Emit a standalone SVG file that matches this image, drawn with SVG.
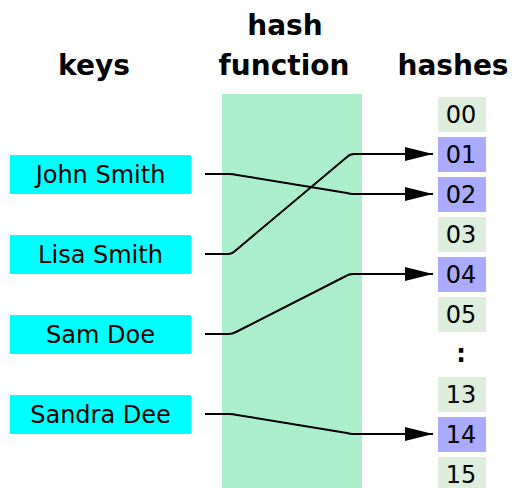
<svg xmlns="http://www.w3.org/2000/svg" width="512" height="488" viewBox="0 0 512 488">
<style>
.h{font-family:"DejaVu Sans",sans-serif;font-weight:bold;font-size:28px;text-anchor:middle;fill:#000}
.k{fill:#00ffff}
.t{font-family:"DejaVu Sans",sans-serif;font-size:24px;text-anchor:middle;fill:#000}
.c{fill:#ddeedd}
.s{fill:#aaaaff}
.ln{fill:none;stroke:#000;stroke-width:2;stroke-linejoin:round}
</style>
<defs>
<marker id="a" markerUnits="userSpaceOnUse" markerWidth="30" markerHeight="16" refX="28" refY="8" orient="auto">
<path d="M0,1 L28,8 L0,15 Z" fill="#000"/>
</marker>
</defs>
<rect x="222" y="94" width="140" height="394" fill="#aaeecc"/>
<text class="h" x="94" y="75">keys</text>
<text class="h" x="285" y="35">hash</text>
<text class="h" x="284" y="75">function</text>
<text class="h" x="453" y="75">hashes</text>
<g id="key-john"><rect class="k" x="10" y="155" width="181" height="39"/><text class="t" x="100.5" y="183">John Smith</text></g>
<g id="key-lisa"><rect class="k" x="10" y="235" width="181" height="39"/><text class="t" x="100.5" y="263">Lisa Smith</text></g>
<g id="key-sam"><rect class="k" x="10" y="315" width="181" height="39"/><text class="t" x="100.5" y="343">Sam Doe</text></g>
<g id="key-sandra"><rect class="k" x="10" y="395" width="181" height="39"/><text class="t" x="100.5" y="423">Sandra Dee</text></g>
<g id="h00"><rect class="c" x="438" y="97" width="48" height="35"/><text class="t" x="461" y="123">00</text></g>
<g id="h01"><rect class="s" x="438" y="137" width="48" height="35"/><text class="t" x="461" y="163">01</text></g>
<g id="h02"><rect class="s" x="438" y="177" width="48" height="35"/><text class="t" x="461" y="203">02</text></g>
<g id="h03"><rect class="c" x="438" y="217" width="48" height="35"/><text class="t" x="461" y="243">03</text></g>
<g id="h04"><rect class="s" x="438" y="257" width="48" height="35"/><text class="t" x="461" y="283">04</text></g>
<g id="h05"><rect class="c" x="438" y="297" width="48" height="35"/><text class="t" x="461" y="323">05</text></g>
<g id="dots"><text class="t" x="461" y="362" font-weight="bold">:</text></g>
<g id="h13"><rect class="c" x="438" y="377" width="48" height="35"/><text class="t" x="461" y="403">13</text></g>
<g id="h14"><rect class="s" x="438" y="417" width="48" height="35"/><text class="t" x="461" y="443">14</text></g>
<g id="h15"><rect class="c" x="438" y="457" width="48" height="35"/><text class="t" x="461" y="483">15</text></g>
<g id="connectors">
<path class="ln" d="M205,174 L229,174 Q233,174 237,175 L347,193 Q350,194 353,194 L433,194" marker-end="url(#a)"/>
<path class="ln" d="M205,254 L229,254 Q232,254 235,251 L347,157 Q350,154 354,154 L433,154" marker-end="url(#a)"/>
<path class="ln" d="M205,334 L229,334 Q232,334 236,332 L346,276 Q349,274 353,274 L433,274" marker-end="url(#a)"/>
<path class="ln" d="M205,414 L229,414 Q233,414 237,415 L347,433 Q350,434 353,434 L433,434" marker-end="url(#a)"/>
</g>
</svg>
